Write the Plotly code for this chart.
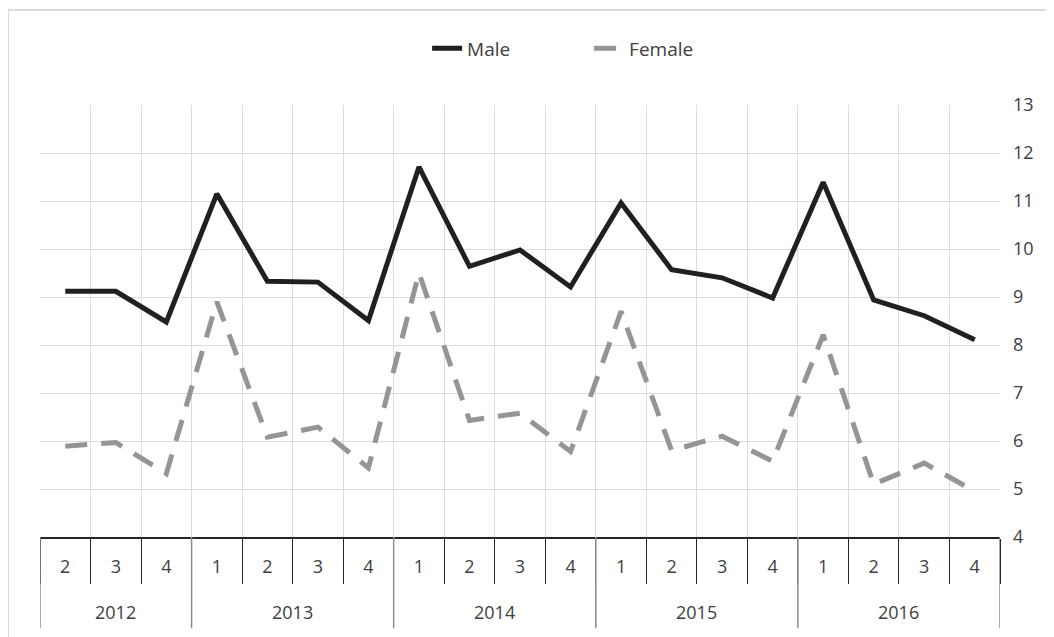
import plotly.graph_objects as go

years = ["2012"] * 3 + ["2013"] * 4 + ["2014"] * 4 + ["2015"] * 4 + ["2016"] * 4
quarters = ["2", "3", "4"] + ["1", "2", "3", "4"] * 4

male = [9.12, 9.12, 8.48, 11.15, 9.33, 9.31, 8.51, 11.71, 9.64, 9.98,
        9.21, 10.96, 9.57, 9.40, 8.98, 11.39, 8.94, 8.61, 8.11]
female = [5.89, 5.97, 5.32, 8.90, 6.08, 6.29, 5.44, 9.50, 6.43, 6.58,
          5.78, 8.70, 5.80, 6.10, 5.58, 8.21, 5.10, 5.54, 4.95]

# one unique category per quarter, shown with the quarter number only
cats = [f"{y} Q{q}" for y, q in zip(years, quarters)]

FONT = "Open Sans"
TXT = "#404040"
GRID = "#dcdcdc"
AXIS = "#262626"

fig = go.Figure()
fig.add_trace(go.Scatter(
    x=cats, y=male, name="Male", mode="lines",
    line=dict(color="#231f20", width=5),
))
fig.add_trace(go.Scatter(
    x=cats, y=female, name="Female", mode="lines",
    line=dict(color="#939598", width=5, dash="22px,14px"),
))

fig.update_layout(
    width=1046, height=629,
    margin=dict(l=32, r=54, t=97, b=100),
    paper_bgcolor="white",
    plot_bgcolor="white",
    font=dict(family=FONT, size=18, color=TXT),
    showlegend=True,
    legend=dict(
        orientation="h", x=0.572, xanchor="center", y=1.131, yanchor="middle",
        font=dict(size=19, color=TXT),
        entrywidth=117,
    ),
    xaxis=dict(
        type="category",
        categoryorder="array", categoryarray=cats,
        tickmode="array", tickvals=cats, ticktext=quarters,
        tickson="boundaries",
        ticks="outside", ticklen=45, tickcolor=AXIS, tickwidth=1,
        ticklabelstandoff=13,
        showgrid=True, gridcolor=GRID, gridwidth=1,
        showline=True, linecolor=AXIS, linewidth=1.5,
        tickfont=dict(size=18, color=TXT),
        automargin=False,
        range=[-0.5, len(cats) - 0.5],
    ),
    yaxis=dict(
        side="right",
        range=[4, 13], dtick=1,
        showgrid=True, gridcolor=GRID, gridwidth=1,
        zeroline=False, showline=False,
        ticks="", ticklabelstandoff=12,
        tickfont=dict(size=18, color=TXT),
        automargin=False,
    ),
)

# year row: dividers at year boundaries and labels centred on each year
bounds = [-0.5]
for i in range(1, len(years)):
    if years[i] != years[i - 1]:
        bounds.append(i - 0.5)
bounds.append(len(years) - 0.5)

for a, b in zip(bounds[:-1], bounds[1:]):
    fig.add_annotation(
        x=(a + b) / 2, xref="x", y=-0.174, yref="paper", yanchor="middle",
        text=years[int(a + 0.5)], showarrow=False,
        font=dict(size=18, color=TXT),
    )
for b in bounds:
    fig.add_shape(
        type="line", xref="x", yref="paper",
        x0=b, x1=b, y0=0, y1=-0.211,
        line=dict(color="#8c8c8c", width=1.5),
    )

# outer chart border like the source workbook
fig.add_shape(
    type="rect", xref="paper", yref="paper",
    x0=-0.0333, x1=1.3, y0=-0.5, y1=1.22,
    line=dict(color=GRID, width=2), layer="below",
)

fig.write_html("out.html")
